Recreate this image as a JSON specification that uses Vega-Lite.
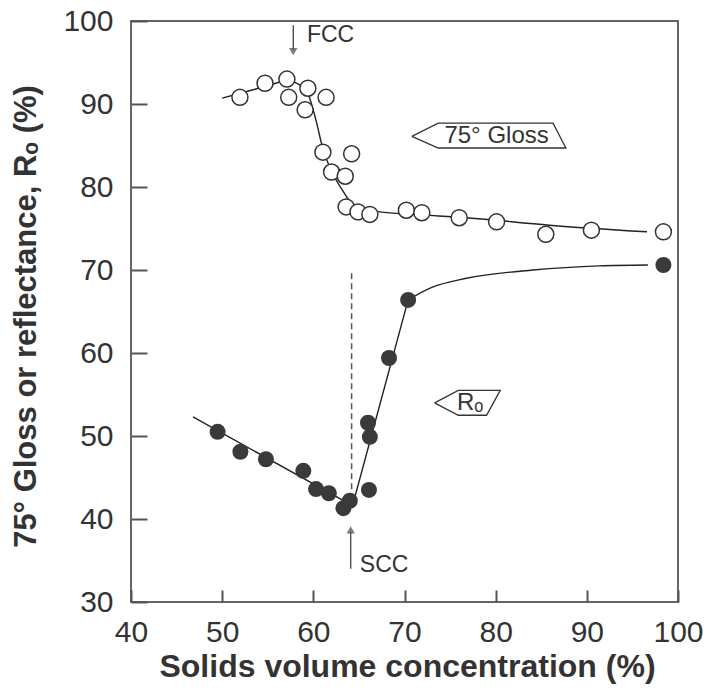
{
  "$schema": "https://vega.github.io/schema/vega-lite/v6.json",
  "width": 547,
  "height": 581,
  "autosize": {"type": "none"},
  "padding": {"left": 131, "top": 21, "right": 30, "bottom": 90},
  "background": "white",
  "config": {
    "view": {"stroke": "#333", "strokeWidth": 1.5},
    "font": "Liberation Sans",
    "axis": {
      "grid": true,
      "gridColor": "#555",
      "gridWidth": 2,
      "gridOpacity": 1,
      "ticks": false,
      "labelFlush": false,
      "domain": false,
      "labelFont": "Liberation Sans",
      "labelFontSize": 30,
      "labelColor": "#333",
      "titleFont": "Liberation Sans",
      "titleFontWeight": "bold",
      "titleColor": "#333"
    }
  },
  "datasets": {
    "gloss": [
      {"x": 51.95, "y": 90.8}, {"x": 54.7, "y": 92.5}, {"x": 57.1, "y": 93.0}, {"x": 57.3, "y": 90.8},
      {"x": 59.1, "y": 89.3}, {"x": 59.4, "y": 91.9}, {"x": 61.4, "y": 90.8}, {"x": 61.05, "y": 84.2},
      {"x": 64.2, "y": 84.0}, {"x": 62.0, "y": 81.8}, {"x": 63.5, "y": 81.3}, {"x": 63.6, "y": 77.6},
      {"x": 64.9, "y": 77.0}, {"x": 66.2, "y": 76.7}, {"x": 70.2, "y": 77.2}, {"x": 71.9, "y": 76.9},
      {"x": 76.0, "y": 76.3}, {"x": 80.1, "y": 75.8}, {"x": 85.5, "y": 74.3}, {"x": 90.5, "y": 74.8},
      {"x": 98.4, "y": 74.6}
    ],
    "ro": [
      {"x": 49.5, "y": 50.5}, {"x": 52.0, "y": 48.1}, {"x": 54.8, "y": 47.2}, {"x": 58.9, "y": 45.8},
      {"x": 60.3, "y": 43.6}, {"x": 61.7, "y": 43.1}, {"x": 63.3, "y": 41.3}, {"x": 64.0, "y": 42.2},
      {"x": 66.0, "y": 51.6}, {"x": 66.2, "y": 49.9}, {"x": 66.1, "y": 43.5}, {"x": 68.3, "y": 59.4},
      {"x": 70.4, "y": 66.4}, {"x": 98.4, "y": 70.6}
    ],
    "glossLine": [
      {"x": 50.0, "y": 90.7}, {"x": 52, "y": 91.3}, {"x": 55, "y": 92.2}, {"x": 57.1, "y": 92.8},
      {"x": 58.5, "y": 92.3}, {"x": 59.5, "y": 91.0}, {"x": 60.3, "y": 88.0}, {"x": 61.0, "y": 84.8},
      {"x": 62.0, "y": 81.9}, {"x": 63.2, "y": 79.6}, {"x": 64.2, "y": 78.0}, {"x": 65.2, "y": 77.3},
      {"x": 67.3, "y": 77.0}, {"x": 70.9, "y": 76.7}, {"x": 76.8, "y": 76.3}, {"x": 85.9, "y": 75.4},
      {"x": 96.6, "y": 74.6}
    ],
    "roLine1": [
      {"x": 46.8, "y": 52.3}, {"x": 64.3, "y": 41.6}, {"x": 70.4, "y": 66.4}
    ],
    "roLine2": [
      {"x": 70.4, "y": 66.4}, {"x": 73.0, "y": 67.9}, {"x": 76.8, "y": 69.0}, {"x": 84.1, "y": 70.0},
      {"x": 91.4, "y": 70.5}, {"x": 96.7, "y": 70.6}
    ],
    "dashed": [{"x": 64.2, "y": 69.6, "y2": 42.7}],
    "arrows": [
      {"x": 57.8, "y": 99.5, "y2": 96.6},
      {"x": 64.1, "y": 34.0, "y2": 38.4}
    ],
    "headsDown": [{"x": 57.8, "y": 96.3}],
    "headsUp": [{"x": 64.1, "y": 38.7}],
    "tags": [
      {"tag": "gloss", "o": 1, "x": 70.8, "y": 86.1},
      {"tag": "gloss", "o": 2, "x": 73.7, "y": 87.7},
      {"tag": "gloss", "o": 3, "x": 86.3, "y": 87.7},
      {"tag": "gloss", "o": 4, "x": 87.7, "y": 84.7},
      {"tag": "gloss", "o": 5, "x": 73.7, "y": 84.7},
      {"tag": "gloss", "o": 6, "x": 70.8, "y": 86.1},
      {"tag": "ro", "o": 1, "x": 73.3, "y": 54.0},
      {"tag": "ro", "o": 2, "x": 75.9, "y": 55.5},
      {"tag": "ro", "o": 3, "x": 80.5, "y": 55.5},
      {"tag": "ro", "o": 4, "x": 79.0, "y": 52.5},
      {"tag": "ro", "o": 5, "x": 75.9, "y": 52.5},
      {"tag": "ro", "o": 6, "x": 73.3, "y": 54.0}
    ],
    "leftTexts": [
      {"x": 59.3, "y": 98.3, "t": "FCC"},
      {"x": 65.1, "y": 34.5, "t": "SCC"}
    ],
    "centerTexts": [
      {"x": 80.1, "y": 86.2, "t": "75° Gloss"},
      {"x": 77.2, "y": 54.0, "t": "Rₒ"}
    ]
  },
  "encoding": {
    "x": {
      "field": "x", "type": "quantitative",
      "scale": {"domain": [40, 100], "nice": false, "zero": false},
      "axis": {"values": [40, 50, 60, 70, 80, 90, 100], "title": "Solids volume concentration (%)",
        "gridDash": [0, 569, 12, 5000], "labelPadding": 15,
        "titleFontSize": 32, "titleBaseline": "middle", "titleY": 64, "titleX": 276, "titleAnchor": "middle"}
    },
    "y": {
      "field": "y", "type": "quantitative",
      "scale": {"domain": [30, 100], "nice": false, "zero": false},
      "axis": {"values": [30, 40, 50, 60, 70, 80, 90, 100], "title": "75° Gloss or reflectance, Rₒ (%)",
        "gridDash": [16, 2000], "labelPadding": 18,
        "titleFontSize": 31, "titleBaseline": "middle", "titleX": -105, "titleY": 295, "titleAngle": -90, "titleAlign": "center"}
    }
  },
  "layer": [
    {"data": {"name": "glossLine"}, "mark": {"type": "line", "interpolate": "monotone", "color": "#222", "strokeWidth": 1.4}},
    {"data": {"name": "roLine1"}, "mark": {"type": "line", "interpolate": "linear", "color": "#222", "strokeWidth": 1.4}},
    {"data": {"name": "roLine2"}, "mark": {"type": "line", "interpolate": "monotone", "color": "#222", "strokeWidth": 1.4}},
    {"data": {"name": "dashed"}, "mark": {"type": "rule", "color": "#555", "strokeWidth": 1.5, "strokeDash": [6, 4]},
      "encoding": {"y2": {"field": "y2"}}},
    {"data": {"name": "arrows"}, "mark": {"type": "rule", "color": "#444", "strokeWidth": 1.3},
      "encoding": {"y2": {"field": "y2"}}},
    {"data": {"name": "headsDown"}, "mark": {"type": "point", "shape": "triangle-down", "filled": true, "color": "#444", "size": 70}},
    {"data": {"name": "headsUp"}, "mark": {"type": "point", "shape": "triangle-up", "filled": true, "color": "#444", "size": 70}},
    {"data": {"name": "tags"}, "mark": {"type": "line", "color": "#333", "strokeWidth": 1.3, "interpolate": "linear"},
      "encoding": {"order": {"field": "o", "type": "quantitative"}, "detail": {"field": "tag"}}},
    {"data": {"name": "leftTexts"}, "mark": {"type": "text", "align": "left", "baseline": "middle", "fontSize": 23, "color": "#333", "font": "Liberation Sans"},
      "encoding": {"text": {"field": "t"}}},
    {"data": {"name": "centerTexts"}, "mark": {"type": "text", "align": "center", "baseline": "middle", "fontSize": 24, "color": "#333", "font": "Liberation Sans"},
      "encoding": {"text": {"field": "t"}}},
    {"data": {"name": "gloss"}, "mark": {"type": "point", "shape": "circle", "filled": true, "fill": "white", "stroke": "#333", "strokeWidth": 1.5, "size": 256, "opacity": 1}},
    {"data": {"name": "ro"}, "mark": {"type": "point", "shape": "circle", "filled": true, "color": "#3a3a3a", "size": 256, "opacity": 1}}
  ]
}
